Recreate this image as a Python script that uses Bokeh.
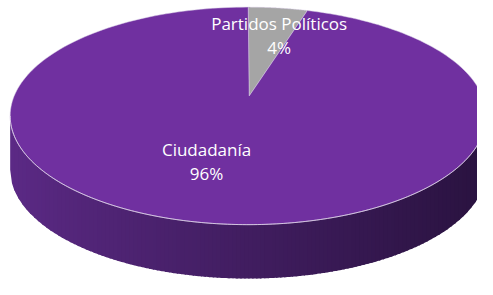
import numpy as np
from bokeh.plotting import figure
from bokeh.models import ColumnDataSource, Range1d
from bokeh.core.properties import value
from bokeh.embed import file_html
from bokeh.resources import INLINE

# data
categories = ["Ciudadanía", "Partidos Políticos"]
values = [96, 4]
colors = ["#7030A0", "#A5A5A5"]

W, H = 477, 279
p = figure(width=W, height=H, output_backend="svg", toolbar_location=None,
           x_range=Range1d(0, 493), y_range=Range1d(295, 0))
p.axis.visible = False
p.grid.visible = False
p.outline_line_color = None
p.min_border = 0
p.background_fill_color = "white"
p.border_fill_color = "white"

cx, cy, a, b, depth, voff = 256, 122, 246, 115, 57, 21

def ell(theta):
    # theta in radians, 0 = top, clockwise
    return cx + a * np.sin(theta), cy - b * np.cos(theta)

# side wall with horizontal gradient (front half)
N = 120
xs_edges = np.linspace(cx - a, cx + a, N + 1)
c0 = np.array([92, 42, 134])
c1 = np.array([42, 19, 64])
sx, sy, sc = [], [], []
for i in range(N):
    x0, x1 = xs_edges[i], min(xs_edges[i + 1] + 1.5, cx + a)
    xx = np.linspace(x0, x1, 4)
    yt = cy + b * np.sqrt(np.clip(1 - ((xx - cx) / a) ** 2, 0, 1))
    poly_x = list(xx) + list(xx[::-1])
    poly_y = list(yt - 1) + list((yt + depth)[::-1])
    t = (i + 0.5) / N
    t2 = t ** 0.9
    c = (c0 * (1 - t2) + c1 * t2).astype(int)
    sx.append(poly_x)
    sy.append(poly_y)
    sc.append("#%02x%02x%02x" % tuple(c))
p.patches(sx, sy, fill_color=sc, line_color=None)

# top face slices
total = sum(values)
fracs = [v / total for v in values]
ang = 0.0
order = [1, 0]  # gray first from top clockwise
vx, vy = cx + 1, cy - voff
px, py, pc = [], [], []
for k in order:
    th = np.linspace(ang, ang + fracs[k] * 2 * np.pi, 240)
    ex, ey = ell(th)
    px.append([vx] + list(ex) + [vx])
    py.append([vy] + list(ey) + [vy])
    pc.append(colors[k])
    ang += fracs[k] * 2 * np.pi
p.patches(px, py, fill_color=pc, line_color="#d9cce6", line_width=0.5)

# highlight rim on front edge
th = np.linspace(np.pi / 2, 3 * np.pi / 2, 200)
ex, ey = ell(th)
p.line(ex, ey, line_color="#e6dcef", line_width=0.9, line_alpha=0.85)

# labels
lab = ColumnDataSource(dict(
    x=[213, 288],
    y=[170, 37],
    t=[f"{categories[0]}\n{values[0]}%", f"{categories[1]}\n{values[1]}%"],
))
p.text(x="x", y="y", text="t", source=lab, text_color="white",
       text_font=value("Open Sans"), text_font_size="17px",
       text_align="center", text_baseline="middle", text_line_height=1.05)

open("out.html", "w").write(file_html(p, INLINE))
